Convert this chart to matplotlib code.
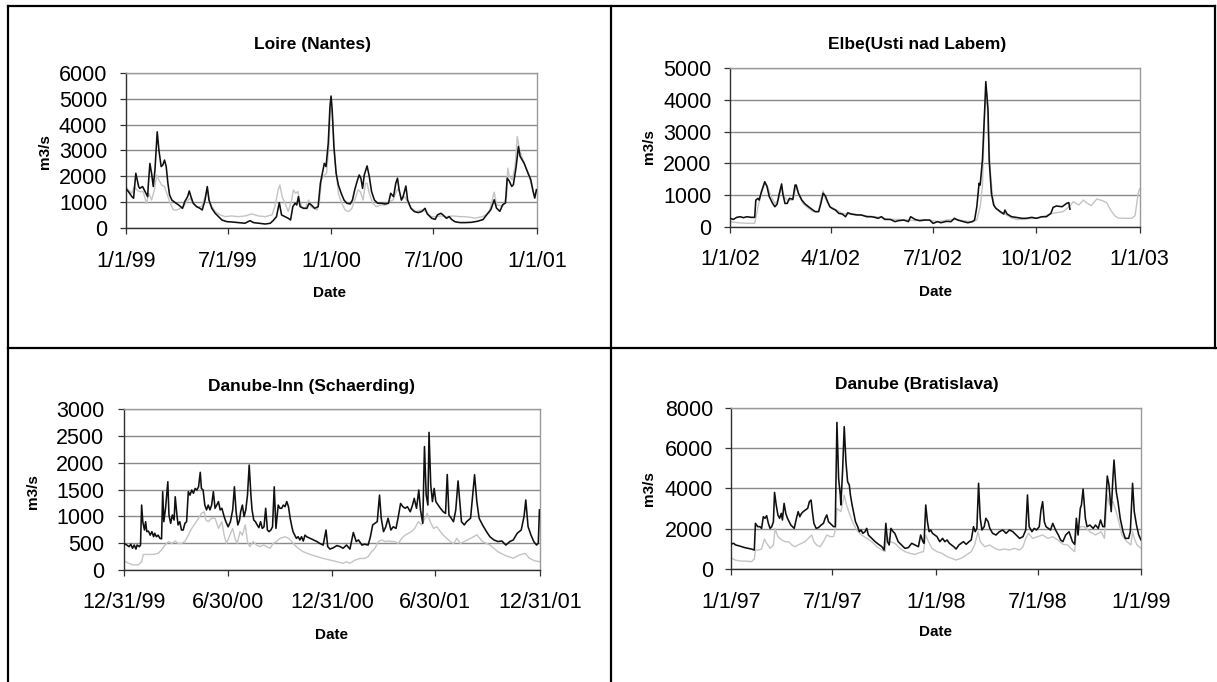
import numpy as np
import pandas as pd
import matplotlib
matplotlib.use('Agg')
import matplotlib.pyplot as plt
from matplotlib.lines import Line2D

plt.rcParams['font.family'] = ['Liberation Sans', 'DejaVu Sans']

W, H = 1217, 682

# ---- Loire (Nantes), days from 1/1/99 ----
loire_obs_day = [0, 5, 11, 14, 18, 23, 25, 30, 33, 36, 39, 40, 43, 46, 49, 52, 56, 59, 63, 66,
                 69, 72, 75, 78, 82, 88, 94, 101, 105, 110, 113, 116, 120, 126, 132, 136, 141, 145, 148, 153,
                 159, 165, 171, 180, 188, 200, 212, 221, 227, 236, 248, 257, 262, 268, 273, 277,
                 283, 289, 293, 297, 301, 304, 307, 310, 316, 322, 326, 330, 336, 342, 346,
                 350, 353, 356, 360, 363, 365, 367, 370, 374, 378, 383, 388, 393, 399, 403,
                 407, 412, 415, 418, 421, 424, 429, 433, 437, 442, 448, 455, 461, 467, 471,
                 476, 480, 483, 486, 490, 493, 498, 501, 507, 513, 520, 526, 532, 536, 544,
                 550, 554, 560, 564, 570, 575, 579, 585, 594, 603,
                 614, 625, 635, 644, 649, 655, 659, 665, 670, 675, 678, 682, 686, 689, 694,
                 698, 701, 708, 715, 720, 724, 727, 730]
loire_obs = [1540, 1410, 1220, 1160, 2120, 1610, 1540, 1610, 1480, 1350, 1220, 1610, 2500, 2120, 1610,
             2250, 3720, 3020, 2380, 2440, 2630, 2380, 1735, 1285, 1090, 990, 900, 770, 1030, 1220,
             1440, 1220, 965, 835, 770, 705, 1090, 1610, 1090, 770, 580, 450, 320, 255, 245,
             220, 195, 295, 220, 195, 165, 195, 295, 450, 990, 515,
             450, 385, 320, 835, 965, 900, 1220, 835, 770, 770, 965, 900, 770, 835, 1735,
             2185, 2505, 2380, 3280, 4690, 5100, 4560, 3150, 2120, 1670, 1350, 1090, 965, 940, 1090,
             1480, 1865, 2055, 1930, 1540, 2055, 2405, 1990, 1415, 1090, 965, 965, 940, 965, 1350,
             1220, 1735, 1930, 1480, 1090, 1220, 1630, 1090, 770, 645, 605, 645, 770, 555, 385,
             345, 515, 580, 515, 385, 450, 345, 255, 220, 220,
             230, 270, 335, 590, 720, 1100, 780, 655, 910, 975, 1935, 1810, 1615, 1680, 2385,
             3155, 2770, 2515, 2130, 1870, 1425, 1165, 1490]
loire_sim_day = [0, 5, 11, 15, 20, 25, 31, 37, 41, 46, 51, 55, 59, 64, 69, 73, 79, 85, 91, 97,
                 103, 108, 114, 120, 126, 135, 141, 145, 150, 159, 168, 177, 188, 200, 212,
                 224, 236, 248, 260, 265, 271, 274, 278,
                 283, 289, 295, 298, 302, 306, 309, 313, 319, 325, 329, 334, 340, 344, 348,
                 353, 357, 361, 364, 367, 372, 378, 384, 390, 396, 402, 407, 413, 417, 422,
                 426, 429, 433, 439, 445, 455, 462, 469, 475, 481, 485, 490, 496, 502, 508,
                 516, 525, 534, 543, 552, 561, 570, 582, 594, 603,
                 621, 635, 646, 650, 655, 659, 670, 677, 679, 682, 687, 692, 696, 700, 708,
                 715, 722, 727, 731]
loire_sim = [1605, 1480, 1350, 1605, 1480, 1415, 1415, 965, 1350, 1090, 1480, 2055, 1865, 1670, 1605,
             1350, 965, 705, 705, 770, 835, 1030, 1155, 965, 835, 835, 1220, 1480, 965, 645,
             515, 450, 475, 450, 475, 555, 475, 450, 515, 835, 1480, 1670, 1220,
             965, 645, 1090, 1480, 1350, 1415, 1090, 835, 770, 1090, 835, 770, 705, 965, 1865,
             2055, 2120, 3150, 4690, 4435, 2635, 1350, 965, 705, 645, 770, 1090, 1480, 1415, 1090,
             1735, 1735, 1350, 965, 835, 900, 900, 1030, 1090, 1415, 1540, 1090, 1220, 965, 770,
             645, 705, 645, 450, 450, 475, 450, 475, 450, 450,
             395, 460, 590, 975, 1395, 910, 845, 1230, 2320, 2000, 1870, 2385, 3540, 3025, 2515,
             2130, 1615, 1230, 1490]

# ---- Elbe (Usti nad Labem), days from 1/1/02 ----
elbe_obs_day = [0, 3, 6, 9, 12, 15, 19, 22, 23, 25, 26, 28, 31, 33, 35, 38, 40, 42, 44, 46,
                47, 49, 51, 53, 56, 58, 59, 61, 64, 67, 70, 73, 76, 79, 81, 83, 85, 87, 89, 91,
                94, 97, 100, 103, 105, 108, 113, 117, 122, 126, 129, 132, 135, 138, 143,
                147, 150, 155, 159, 161, 165, 169, 174, 178, 181, 185, 188, 193, 197, 200,
                203, 208, 212, 216, 218, 220, 222, 223, 225, 227, 228, 230, 231, 233, 235,
                237, 241, 244, 245, 247, 251, 255, 260, 264, 269, 273, 278, 282, 286, 288,
                291, 296, 300, 302, 303]
elbe_obs = [265, 230, 295, 315, 285, 315, 295, 295, 840, 895, 840, 1105, 1420, 1265, 950,
            735, 630, 715, 1055, 1350, 1055, 735, 735, 895, 865, 1315, 1315, 1055, 840, 715,
            630, 550, 475, 475, 735, 1055, 970, 790, 630, 580, 525, 420, 400, 315, 440,
            400, 370, 370, 315, 315, 295, 265, 315, 230, 230, 160, 190, 210, 160, 315,
            230, 190, 210, 210, 105, 160, 125, 170, 160, 265, 210, 160, 125, 160, 210,
            630, 1370, 1315, 2105, 3685, 4580, 3685, 2105, 1055, 685, 580, 475, 400, 525, 400,
            315, 295, 265, 265, 295, 265, 315, 315, 420, 610, 655, 630, 735, 760, 550]
elbe_sim_day = [0, 7, 16, 22, 25, 28, 31, 33, 36, 40, 43, 46, 48, 51, 53, 56, 59, 62, 65, 70,
                74, 79, 81, 83, 85, 89, 94, 100, 105, 111, 117, 123, 129, 135, 141,
                147, 150, 157, 165, 173, 180, 186, 193, 200, 208, 215, 220, 223, 225, 227,
                229, 230, 232, 234, 236, 241, 245, 250, 255, 261, 267, 273, 279, 285, 291,
                297, 303, 306, 311, 315, 318, 322, 327, 332, 336, 339, 343, 346, 351, 358,
                361, 364, 365]
elbe_sim = [160, 125, 105, 105, 630, 1055, 1370, 1315, 1000, 735, 840, 1285, 950, 840, 840,
            840, 1265, 950, 735, 580, 475, 475, 840, 1135, 895, 630, 550, 420, 400, 400,
            370, 335, 315, 295, 230, 230, 230, 210, 190, 230, 190, 160, 210, 230, 190,
            160, 210, 630, 1265, 3685, 4210, 3160, 1790, 950, 630, 440, 400, 295, 230, 230,
            255, 265, 315, 400, 440, 475, 660, 790, 685, 840, 750, 665, 875, 820, 750,
            535, 345, 275, 265, 265, 345, 1085, 1190]

# ---- Danube-Inn (Schaerding), days from 12/31/99 ----
inn_obs_day = [0, 5, 9, 12, 15, 18, 21, 23, 27, 29, 31, 33, 36, 38, 40, 43, 46, 49, 52, 54,
               57, 60, 63, 66, 68, 70, 73, 77, 79, 82, 85, 88, 90, 93, 95, 98, 101, 104, 107, 110,
               113, 116, 119, 122, 125, 128, 131, 134, 136, 139, 142, 145, 148, 151, 154,
               157, 160, 163, 166, 169, 172, 176, 179, 183, 187, 191, 194, 197, 200, 203,
               205, 208, 211, 214, 217, 220, 223, 225, 228, 231, 234, 237, 240, 243, 246,
               249, 252, 255, 258, 261, 264, 267, 271, 274,
               277, 280, 283, 286, 289, 292, 295, 297, 300, 303, 306, 309, 312, 315, 318,
               321, 327, 333, 339, 344, 350, 355, 358, 362, 368, 374, 380, 385, 391, 397,
               403, 408, 412, 418, 423, 429, 433, 437, 441, 445, 449, 452, 456, 460, 464,
               469, 473, 478, 482, 486, 490, 494, 498, 503, 507, 510, 514, 518, 521, 525,
               528, 531, 534, 536, 539, 542, 545, 548, 552, 556, 561, 565, 568, 571, 575,
               579, 583, 587, 593, 598,
               602, 609, 616, 620, 624, 630, 637, 643, 650, 657, 664, 671, 678, 684, 691,
               698, 703, 706, 710, 715, 720, 725, 728, 730]
inn_obs = [495, 465, 435, 480, 405, 465, 390, 465, 435, 465, 1210, 900, 745, 900, 715,
           725, 650, 715, 620, 685, 620, 650, 590, 580, 1460, 900, 1150, 1645, 1025, 870,
           1025, 930, 1365, 1025, 840, 900, 745, 745, 870, 900, 1460, 1395, 1490, 1430, 1520,
           1490, 1550, 1820, 1520, 1490, 1210, 1120, 1210, 1120, 1210, 1460, 1150, 1210, 1275, 1120,
           1150, 995, 900, 805, 900, 1120, 1550, 1085, 840, 930, 1085, 1210, 995, 1120, 1395,
           1955, 1395, 1120, 930, 900, 840, 790, 900, 775, 805, 1150, 745, 715, 745, 805,
           1550, 775, 1210, 1150,
           1150, 1210, 1180, 1275, 1180, 965, 805, 715, 650, 590, 620, 560, 620, 540, 650,
           620, 590, 560, 530, 495, 465, 745, 435, 390, 415, 455, 435, 405, 465, 390,
           700, 530, 560, 465, 480, 465, 620, 840, 870, 900, 1395, 965, 715, 805, 965,
           745, 805, 775, 995, 1240, 1180, 1150, 1180, 1085, 1210, 1335, 1150, 1490, 1120, 870,
           2300, 1395, 1210, 2565, 1585, 1275, 1520, 1275, 1210, 1150, 1085, 1055, 1780, 1025, 965,
           900, 1120, 1660, 900, 840,
           900, 965, 1775, 1275, 965, 840, 715, 620, 560, 530, 540, 465, 530, 560, 685,
           745, 1000, 1305, 810, 655, 530, 465, 500, 1120]
inn_sim_day = [0, 8, 16, 25, 31, 34, 43, 52, 60, 66, 72, 78, 84, 90, 95, 101, 107, 113, 119, 125,
               131, 136, 141, 144, 148, 154, 160, 166, 172, 176, 180, 186, 191, 195, 199,
               204, 208, 213, 217, 221, 227, 233, 239, 245, 251, 257, 262, 268, 274,
               283, 289, 295, 300, 306, 315, 327, 339, 350, 362, 374, 385, 391, 397, 406,
               415, 423, 429, 435, 441, 447, 453, 459, 464, 470, 476, 482, 488, 494, 500,
               505, 511, 517, 523, 529, 533, 538, 544, 550, 556, 561, 567, 573, 579, 585,
               591, 598, 609, 620, 630, 643, 657, 671, 684, 695, 705, 712, 722, 731]
inn_sim = [170, 125, 95, 95, 155, 290, 290, 290, 310, 375, 465, 530, 495, 540, 495,
           495, 530, 650, 775, 870, 965, 1055, 1085, 930, 900, 965, 965, 775, 900, 650,
           495, 650, 775, 590, 495, 715, 650, 840, 530, 435, 530, 465, 435, 465, 435,
           405, 495, 530, 590,
           620, 590, 530, 465, 405, 340, 290, 250, 215, 185, 155, 125, 155, 125, 185,
           215, 215, 250, 340, 405, 530, 560, 530, 540, 530, 530, 495, 590, 650, 685,
           715, 775, 900, 840, 965, 1055, 900, 775, 805, 715, 650, 590, 530, 495, 590,
           495, 530, 590, 655, 530, 465, 340, 265, 220, 280, 310, 220, 170, 155]

# ---- Danube (Bratislava), days from 1/1/97 ----
brat_obs_day = [0, 5, 9, 14, 20, 25, 31, 37, 42, 44, 48, 52, 55, 58, 61, 64, 67, 70, 73, 76,
                78, 81, 84, 87, 90, 92, 95, 98, 101, 104, 107, 110, 113, 117, 120,
                123, 126, 129, 133, 137, 140, 143, 145, 148, 152, 156, 161, 165, 168, 171,
                174, 177, 180, 183, 186, 189, 192, 195, 196, 199, 202, 205, 208, 211, 213,
                216, 219, 222, 226, 229, 232, 235, 239, 242, 245, 251, 257, 263, 269, 273,
                276, 279, 282, 285, 289,
                292, 298, 304, 310, 316, 322, 328, 334, 338, 342, 344, 347, 350, 353, 356,
                359, 363, 367, 372, 377, 381, 385, 389, 393, 397, 401, 406, 410, 414, 419,
                424, 428, 432, 435, 438, 441, 444, 447, 451, 454, 458, 461, 466, 472, 478,
                484, 490, 496, 502, 508, 514, 520, 525, 528, 531, 536, 540, 544, 549, 552,
                555, 558, 561, 565, 569, 573, 578, 583, 587, 591, 596, 602,
                605, 608, 612, 615, 618, 622, 624, 627, 631, 634, 639, 645, 649, 654, 658,
                662, 665, 670, 673, 677, 680, 682, 686, 689, 693, 698, 702, 708, 711, 715,
                718, 722, 726, 730]
brat_obs = [1225, 1275, 1190, 1155, 1105, 1060, 1025, 990, 940, 2265, 2100, 2100, 2015, 2595, 2515,
            2645, 2265, 2015, 2100, 2345, 3800, 3175, 2680, 2515, 2760, 2430, 3255, 2760, 2515, 2345,
            2180, 2100, 2015, 2515, 2845, 2595, 2760, 2845, 2925, 3010, 3340, 3420, 2925, 2265, 2015,
            2050, 2180, 2265, 2515, 2680, 2345, 2265, 2180, 2100, 2100, 7270, 4495, 3670, 3175, 4825,
            7060, 5325, 4330, 4165, 3670, 3175, 2760, 2345, 2100, 1850, 1935, 1770, 1850, 2015, 1685,
            1520, 1355, 1225, 1105, 940, 2265, 1355, 1190, 2015, 1850,
            1770, 1355, 1190, 1025, 1060, 1275, 1190, 1105, 1685, 1355, 1275, 3175, 2345, 1850, 1935,
            1770, 1685, 1605, 1355, 1520, 1355, 1440, 1275, 1190, 1105, 990, 1190, 1275, 1355, 1225,
            1355, 1440, 2100, 1850, 2015, 4250, 2515, 1935, 2100, 2515, 2345, 2015, 1770, 1685, 1850,
            1935, 1770, 1935, 1850, 1685, 1520, 1605, 1935, 3670, 2100, 1850, 2015, 1935, 2100, 2925,
            3340, 2345, 2100, 2015, 1935, 2265, 1935, 1685, 1440, 1355, 1685, 1850,
            1605, 1355, 1225, 2515, 1685, 3010, 3175, 3965, 2515, 2100, 2180, 2015, 2180, 2015, 2430,
            2100, 2100, 4610, 4165, 2845, 4495, 5405, 3835, 3340, 2515, 1850, 1520, 1520, 1850, 4250,
            2845, 2180, 1685, 1440]
brat_sim_day = [0, 8, 17, 25, 37, 42, 44, 49, 55, 60, 64, 70, 76, 79, 84, 91, 97, 103, 109, 114,
                120, 126, 132, 138, 144, 148, 153, 159, 165, 171, 177, 183, 187, 189, 196,
                202, 206, 212, 218, 224, 233, 242, 251, 260, 269, 275, 277, 283, 292,
                301, 310, 319, 328, 337, 343, 347, 352, 358, 367, 376, 385, 393, 401, 410,
                419, 428, 434, 440, 444, 452, 461, 470, 478, 487, 496, 505, 514, 520, 525,
                530, 537, 546, 555, 564, 573, 582, 591, 600,
                605, 612, 615, 622, 629, 639, 649, 659, 665, 670, 674, 680, 684, 689, 696,
                705, 712, 715, 718, 723, 730]
brat_sim = [560, 445, 395, 395, 365, 495, 940, 940, 990, 1490, 1275, 1025, 1190, 2015, 1605,
            1440, 1355, 1355, 1190, 1105, 1190, 1275, 1355, 1520, 1685, 1355, 1190, 1105, 1355, 1685,
            1605, 1605, 2015, 3000, 2845, 3670, 3175, 2680, 2265, 1935, 1685, 1520, 1355, 1105, 940,
            860, 1685, 1355, 1275,
            1025, 860, 775, 725, 825, 860, 1685, 1355, 1025, 860, 775, 610, 530, 445, 530,
            695, 860, 1190, 1850, 1355, 1105, 1190, 1025, 940, 990, 940, 1025, 940, 1105, 1520,
            1770, 1520, 1605, 1685, 1520, 1605, 1440, 1225, 1190,
            1025, 860, 1850, 2100, 2100, 1850, 1685, 1850, 1520, 3670, 3175, 3340, 3010, 2515, 1685,
            1355, 1190, 1850, 1520, 1190, 1025]

titles = ['Loire (Nantes)', 'Elbe(Usti nad Labem)', 'Danube-Inn (Schaerding)', 'Danube (Bratislava)']
starts = ['1999-01-01', '2002-01-01', '1999-12-31', '1997-01-01']
xtick_dates = [['1999-01-01', '1999-07-01', '2000-01-01', '2000-07-01', '2001-01-01'],
               ['2002-01-01', '2002-04-01', '2002-07-01', '2002-10-01', '2003-01-01'],
               ['1999-12-31', '2000-06-30', '2000-12-31', '2001-06-30', '2001-12-31'],
               ['1997-01-01', '1997-07-01', '1998-01-01', '1998-07-01', '1999-01-01']]
xtick_labels = [['1/1/99', '7/1/99', '1/1/00', '7/1/00', '1/1/01'],
                ['1/1/02', '4/1/02', '7/1/02', '10/1/02', '1/1/03'],
                ['12/31/99', '6/30/00', '12/31/00', '6/30/01', '12/31/01'],
                ['1/1/97', '7/1/97', '1/1/98', '7/1/98', '1/1/99']]
ymaxes = [6000, 5000, 3000, 8000]
ysteps = [1000, 1000, 500, 2000]
obs = [(loire_obs_day, loire_obs), (elbe_obs_day, elbe_obs), (inn_obs_day, inn_obs), (brat_obs_day, brat_obs)]
sim = [(loire_sim_day, loire_sim), (elbe_sim_day, elbe_sim), (inn_sim_day, inn_sim), (brat_sim_day, brat_sim)]

# layout in pixels: plot box (x0, x1, ytop, ybottom), title, xlabel, ylabel centres
boxes = [(125.7, 537, 72.7, 228.3), (730, 1139.5, 68.3, 226.7),
         (124, 540, 409, 570), (730.7, 1141, 407.7, 569)]
title_pos = [(312, 45), (917, 45), (312, 386.7), (917, 384.3)]
xlab_pos = [(330, 292.7), (935, 291.7), (331, 635), (935, 632.3)]
ylab_pos = [(44.7, 151.7), (648.7, 146.7), (33, 491.7), (648.7, 488.3)]
ypads = [9, 9, 10, 8.5]

fig = plt.figure(figsize=(W / 100, H / 100), dpi=100)
fig.patch.set_facecolor('white')

def fx(px):
    return px / W

def fy(py):
    return 1 - py / H

for i in range(4):
    x0, x1, yt, yb = boxes[i]
    ax = fig.add_axes([fx(x0), fy(yb), fx(x1 - x0), (yb - yt) / H])
    t0 = pd.Timestamp(starts[i])
    sd, sv = sim[i]
    od, ov = obs[i]
    ax.plot(t0 + pd.to_timedelta(np.array(sd), unit='D'), sv, color='#c4c4c4', lw=1.0, zorder=2)
    ax.plot(t0 + pd.to_timedelta(np.array(od), unit='D'), ov, color='#101010', lw=1.15, zorder=3)
    ticks = [pd.Timestamp(d) for d in xtick_dates[i]]
    ax.set_xlim(ticks[0], ticks[-1])
    ax.set_xticks(ticks)
    ax.set_xticklabels(xtick_labels[i])
    ax.set_ylim(0, ymaxes[i])
    ax.set_yticks(np.arange(0, ymaxes[i] + 1, ysteps[i]))
    ax.set_yticklabels([str(v) for v in np.arange(0, ymaxes[i] + 1, ysteps[i])])
    ax.grid(axis='y', color='#8a8a8a', lw=1.0, zorder=1)
    ax.set_axisbelow(True)
    for s in ['top', 'right']:
        ax.spines[s].set_color('#9a9a9a')
        ax.spines[s].set_linewidth(1.0)
    for s in ['left', 'bottom']:
        ax.spines[s].set_color('#303030')
        ax.spines[s].set_linewidth(1.0)
    ax.tick_params(axis='both', direction='out', length=4.2, width=0.9, color='#303030',
                   labelsize=15.5, labelcolor='black')
    ax.tick_params(axis='x', pad=12)
    ax.tick_params(axis='y', pad=ypads[i])
    ax.set_facecolor('white')

    fig.text(fx(title_pos[i][0]), fy(title_pos[i][1]), titles[i], ha='center', va='center',
             fontsize=12.5, fontweight='bold')
    fig.text(fx(xlab_pos[i][0]), fy(xlab_pos[i][1]), 'Date', ha='center', va='center',
             fontsize=11, fontweight='bold')
    fig.text(fx(ylab_pos[i][0]), fy(ylab_pos[i][1]), 'm3/s', ha='center', va='center',
             fontsize=11, fontweight='bold', rotation=90)

# table cell borders
border = dict(color='black', lw=1.6, transform=fig.transFigure)
fig.add_artist(Line2D([fx(7.5), fx(1214.5)], [fy(6), fy(6)], **border))
fig.add_artist(Line2D([fx(7.5), fx(1217)], [fy(347.5), fy(347.5)], **border))
fig.add_artist(Line2D([fx(7.5), fx(7.5)], [fy(6), fy(682)], **border))
fig.add_artist(Line2D([fx(611), fx(611)], [fy(6), fy(682)], **border))
fig.add_artist(Line2D([fx(1214.5), fx(1214.5)], [fy(6), fy(347.5)], **border))

fig.savefig('out.png', dpi=100, facecolor='white')
